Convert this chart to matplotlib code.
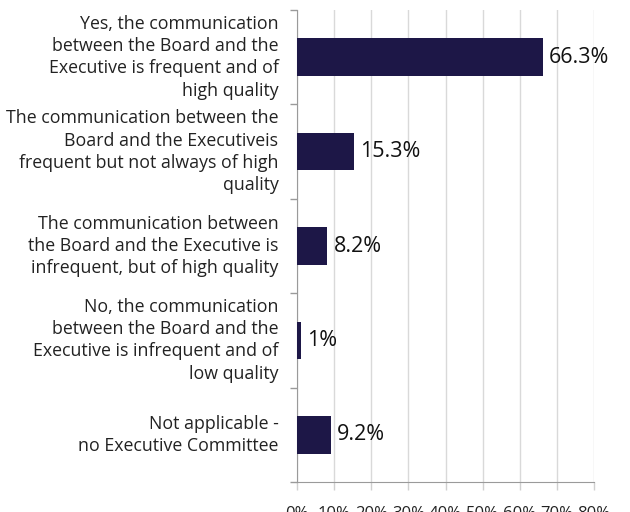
import matplotlib.pyplot as plt
import numpy as np

# Respostas da pesquisa (percentual de respondentes)
categorias = [
    "Yes, the communication\nbetween the Board and the\nExecutive is frequent and of\nhigh quality",
    "The communication between the\nBoard and the Executiveis\nfrequent but not always of high\nquality",
    "The communication between\nthe Board and the Executive is\ninfrequent, but of high quality",
    "No, the communication\nbetween the Board and the\nExecutive is infrequent and of\nlow quality",
    "Not applicable -\nno Executive Committee",
]
valores = [66.3, 15.3, 8.2, 1.0, 9.2]
rotulos = ["66.3%", "15.3%", "8.2%", "1%", "9.2%"]
ticks_x = [0, 10, 20, 30, 40, 50, 60, 70, 80]

plt.rcParams.update({'font.family': ['Open Sans', 'DejaVu Sans']})
cor_barra = '#1d1747'
cor_eixo = '#9a9a9a'

fig = plt.figure(figsize=(6.3, 5.12), dpi=100)
ax = fig.add_axes([297 / 630, 1 - 482 / 512, 297 / 630, 472 / 512])

y = np.arange(len(valores))
ax.barh(y, valores, height=0.4, color=cor_barra, zorder=3)

for yi, v, r in zip(y, valores, rotulos):
    ax.text(v + 1.6, yi, r, va='center', ha='left', fontsize=15.5, color='#111111')

ax.set_ylim(len(valores) - 0.5, -0.5)
ax.set_xlim(0, 80)

# categorias escritas a esquerda, fora do eixo
for yi, c in zip(y, categorias):
    ax.text(-5.0, yi, c, ha='right', va='center', fontsize=12.8,
            color='#222222', linespacing=1.3)

ax.set_yticks(np.arange(-0.5, len(valores), 1))
ax.set_yticklabels([])
ax.tick_params(axis='y', length=5, color=cor_eixo, width=1)

ax.set_xticks(ticks_x)
ax.set_xticklabels([f'{t}%' for t in ticks_x], fontsize=12, color='#222222')
ax.tick_params(axis='x', length=6, color='#d0d0d0', width=1, pad=11)

ax.grid(axis='x', color='#d9d9d9', linewidth=1, zorder=0)
for s in ['top', 'right']:
    ax.spines[s].set_visible(False)
ax.spines['left'].set_color(cor_eixo)
ax.spines['bottom'].set_color(cor_eixo)

plt.savefig('out.png', dpi=100)
